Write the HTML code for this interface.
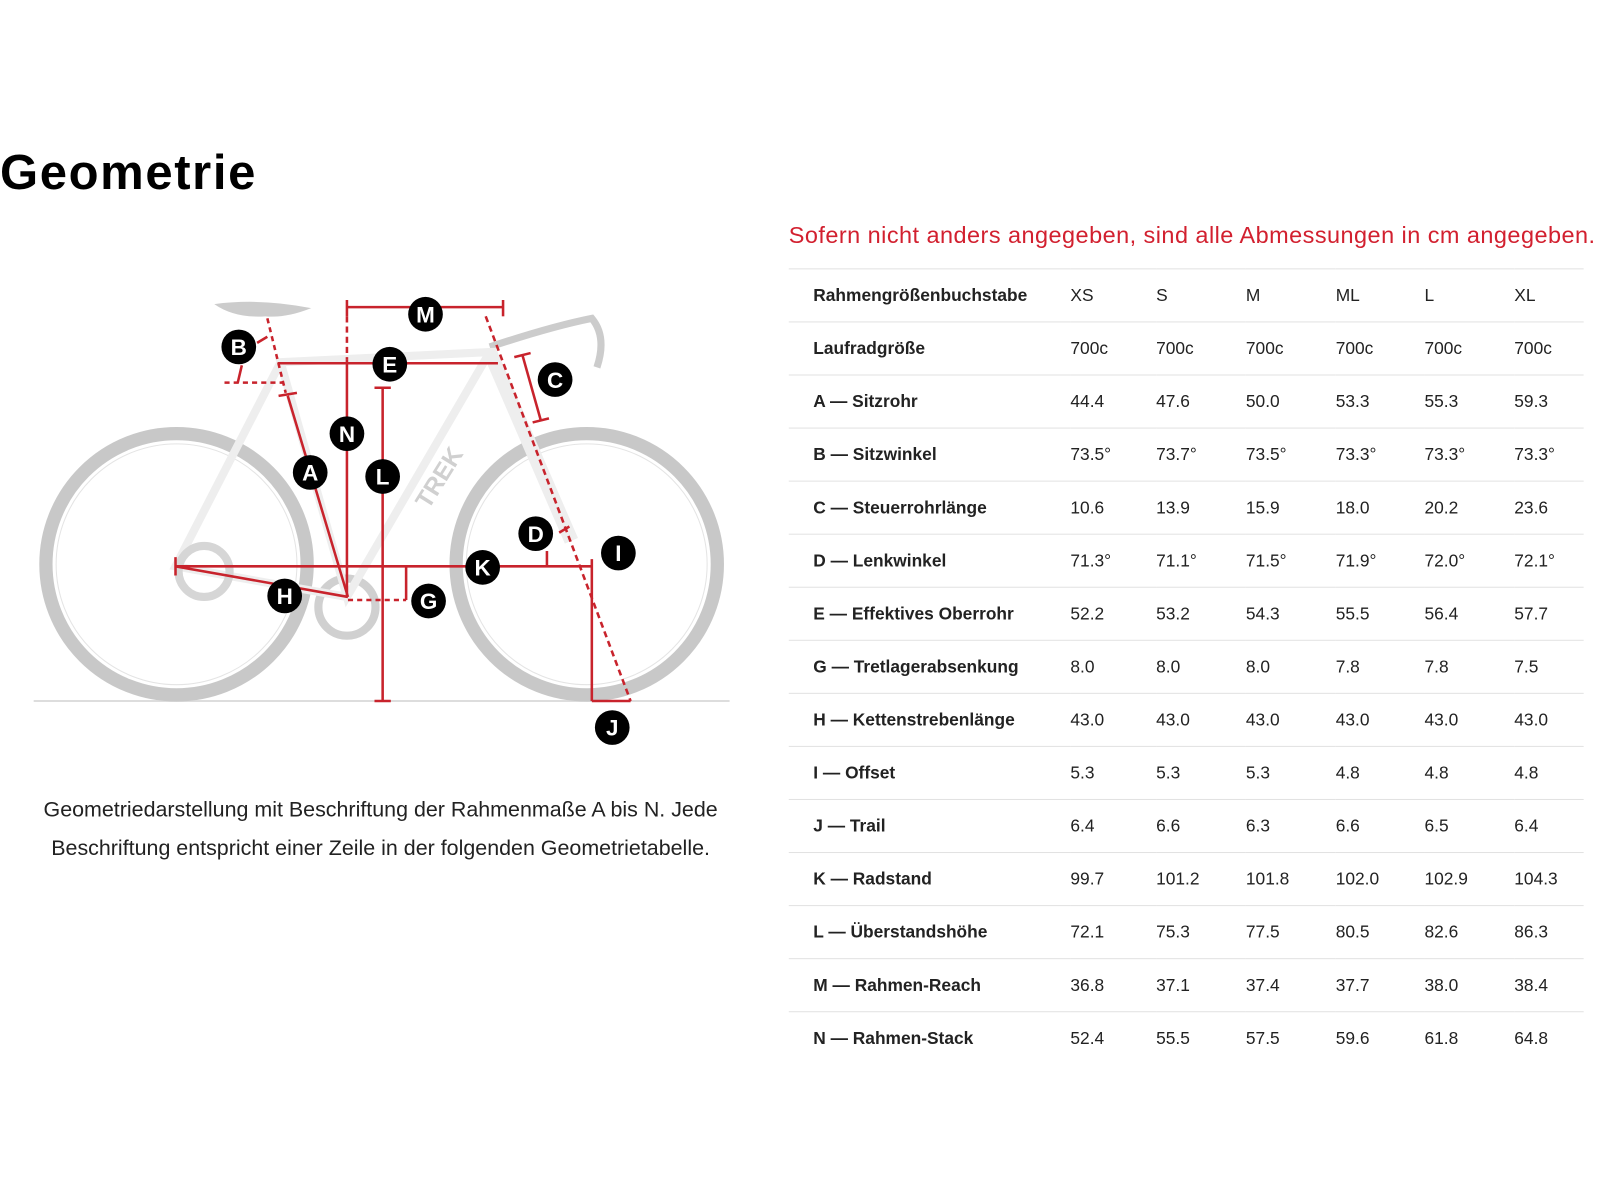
<!DOCTYPE html>
<html><head><meta charset="utf-8"><style>
html,body{margin:0;padding:0;background:#fff;width:1600px;height:1200px;overflow:hidden}
#w{position:absolute;left:0;top:0;width:1568px;height:1176px;transform:scale(1.0204);transform-origin:0 0;font-family:"Liberation Sans",sans-serif;color:#222}
h1{position:absolute;left:0;top:142px;margin:0;font-size:48px;font-weight:bold;color:#000;letter-spacing:1.6px}
.note{position:absolute;left:773px;top:217px;font-size:23px;letter-spacing:0.45px;color:#d2202f;white-space:nowrap}
table{position:absolute;left:773px;top:263px;width:779px;border-collapse:collapse;font-size:17px}
td{height:51px;border-top:1px solid #e2e2e2;padding:0;color:#222}
td:first-child{padding-left:24px;font-weight:bold;width:252px}
.cap{position:absolute;left:0;width:746px;text-align:center;font-size:21px;line-height:38px;top:775px;color:#222}
</style></head><body><div id="w">
<h1>Geometrie</h1>
<div class="note">Sofern nicht anders angegeben, sind alle Abmessungen in cm angegeben.</div>
<svg style="position:absolute;left:0;top:0" width="760" height="760" viewBox="0 0 760 760">
<line x1="33" y1="687" x2="715" y2="687" stroke="#ddd" stroke-width="2"/>
<g fill="none" stroke="#c8c8c8">
<circle cx="173" cy="553" r="128" stroke-width="13"/>
<circle cx="575" cy="553" r="128" stroke-width="13"/>
<circle cx="173" cy="553" r="118" stroke-width="1" stroke="#e4e4e4"/>
<circle cx="575" cy="553" r="118" stroke-width="1" stroke="#e4e4e4"/>
<circle cx="340" cy="595" r="28" stroke-width="8" stroke="#d0d0d0"/>
<path d="M210 298 Q255 292 305 302 Q280 312 260 310 Q230 312 210 298Z" fill="#ccc" stroke="none"/>
<path d="M480 340 Q540 320 580 312 Q595 330 585 360" stroke-width="7" stroke="#ccc"/>
<path d="M275 355 L340 585 L480 345 Z M275 355 L172 555 L340 585" stroke-width="8" stroke="#eee"/>
<path d="M480 345 L560 530" stroke-width="14" stroke="#eee"/>
<circle cx="200" cy="560" r="25" stroke-width="8" stroke="#d6d6d6"/>
</g>
<text x="420" y="500" transform="rotate(-58 420 500)" font-size="24" font-weight="bold" fill="#d0d0d0" font-family="Liberation Sans">TREK</text>
<g stroke="#c8232c" stroke-width="2.5" fill="none">
<line x1="340" y1="301" x2="493" y2="301"/><line x1="340" y1="294" x2="340" y2="310"/><line x1="493" y1="294" x2="493" y2="310"/>
<line x1="340" y1="310" x2="340" y2="352" stroke-dasharray="6 4"/><line x1="340" y1="352" x2="340" y2="585"/>
<line x1="272" y1="356" x2="488" y2="356"/>
<line x1="375" y1="380" x2="375" y2="687"/><line x1="367" y1="380" x2="383" y2="380"/><line x1="367" y1="687" x2="383" y2="687"/>
<line x1="262" y1="312" x2="280" y2="385" stroke-dasharray="5 4"/><line x1="282" y1="388" x2="341" y2="585"/><line x1="273" y1="388" x2="291" y2="385"/>
<line x1="220" y1="375" x2="278" y2="375" stroke-dasharray="5 4"/><line x1="237" y1="358" x2="233" y2="375"/>
<line x1="172" y1="555" x2="580" y2="555"/><line x1="172" y1="546" x2="172" y2="564"/>
<line x1="172" y1="555" x2="341" y2="585"/>
<line x1="398" y1="555" x2="398" y2="588"/><line x1="341" y1="588" x2="398" y2="588" stroke-dasharray="5 4"/>
<line x1="476" y1="310" x2="618" y2="687" stroke-dasharray="6 4"/>
<line x1="580" y1="548" x2="580" y2="687"/><line x1="580" y1="687" x2="618" y2="687"/>
<line x1="512" y1="348" x2="530" y2="412"/><line x1="504" y1="350" x2="520" y2="346"/><line x1="522" y1="414" x2="538" y2="410"/>
<line x1="536" y1="540" x2="536" y2="555"/><line x1="548" y1="522" x2="558" y2="516"/>
<line x1="262" y1="330" x2="252" y2="336"/>
</g>
<g font-family="Liberation Sans" font-weight="bold" font-size="22" fill="#fff" text-anchor="middle">
<g fill="#000"><circle cx="417" cy="308" r="17"/><circle cx="234" cy="340" r="17"/><circle cx="382" cy="357" r="17"/><circle cx="544" cy="372" r="17"/><circle cx="340" cy="425" r="17"/><circle cx="304" cy="463" r="17"/><circle cx="375" cy="467" r="17"/><circle cx="525" cy="523" r="17"/><circle cx="606" cy="542" r="17"/><circle cx="473" cy="556" r="17"/><circle cx="279" cy="584" r="17"/><circle cx="420" cy="589" r="17"/><circle cx="600" cy="713" r="17"/></g>
<text x="417" y="316">M</text><text x="234" y="348">B</text><text x="382" y="365">E</text><text x="544" y="380">C</text><text x="340" y="433">N</text><text x="304" y="471">A</text><text x="375" y="475">L</text><text x="525" y="531">D</text><text x="606" y="550">I</text><text x="473" y="564">K</text><text x="279" y="592">H</text><text x="420" y="597">G</text><text x="600" y="721">J</text>
</g>
</svg>
<div class="cap">Geometriedarstellung mit Beschriftung der Rahmenmaße A bis N. Jede<br>Beschriftung entspricht einer Zeile in der folgenden Geometrietabelle.</div>
<table>
<colgroup><col><col style="width:84px"><col style="width:88px"><col style="width:88px"><col style="width:87px"><col style="width:88px"><col></colgroup>
<tr><td>Rahmengrößenbuchstabe</td><td>XS</td><td>S</td><td>M</td><td>ML</td><td>L</td><td>XL</td></tr>
<tr><td>Laufradgröße</td><td>700c</td><td>700c</td><td>700c</td><td>700c</td><td>700c</td><td>700c</td></tr>
<tr><td>A — Sitzrohr</td><td>44.4</td><td>47.6</td><td>50.0</td><td>53.3</td><td>55.3</td><td>59.3</td></tr>
<tr><td>B — Sitzwinkel</td><td>73.5°</td><td>73.7°</td><td>73.5°</td><td>73.3°</td><td>73.3°</td><td>73.3°</td></tr>
<tr><td>C — Steuerrohrlänge</td><td>10.6</td><td>13.9</td><td>15.9</td><td>18.0</td><td>20.2</td><td>23.6</td></tr>
<tr><td>D — Lenkwinkel</td><td>71.3°</td><td>71.1°</td><td>71.5°</td><td>71.9°</td><td>72.0°</td><td>72.1°</td></tr>
<tr><td>E — Effektives Oberrohr</td><td>52.2</td><td>53.2</td><td>54.3</td><td>55.5</td><td>56.4</td><td>57.7</td></tr>
<tr><td>G — Tretlagerabsenkung</td><td>8.0</td><td>8.0</td><td>8.0</td><td>7.8</td><td>7.8</td><td>7.5</td></tr>
<tr><td>H — Kettenstrebenlänge</td><td>43.0</td><td>43.0</td><td>43.0</td><td>43.0</td><td>43.0</td><td>43.0</td></tr>
<tr><td>I — Offset</td><td>5.3</td><td>5.3</td><td>5.3</td><td>4.8</td><td>4.8</td><td>4.8</td></tr>
<tr><td>J — Trail</td><td>6.4</td><td>6.6</td><td>6.3</td><td>6.6</td><td>6.5</td><td>6.4</td></tr>
<tr><td>K — Radstand</td><td>99.7</td><td>101.2</td><td>101.8</td><td>102.0</td><td>102.9</td><td>104.3</td></tr>
<tr><td>L — Überstandshöhe</td><td>72.1</td><td>75.3</td><td>77.5</td><td>80.5</td><td>82.6</td><td>86.3</td></tr>
<tr><td>M — Rahmen-Reach</td><td>36.8</td><td>37.1</td><td>37.4</td><td>37.7</td><td>38.0</td><td>38.4</td></tr>
<tr><td>N — Rahmen-Stack</td><td>52.4</td><td>55.5</td><td>57.5</td><td>59.6</td><td>61.8</td><td>64.8</td></tr>
</table>
</div></body></html>
